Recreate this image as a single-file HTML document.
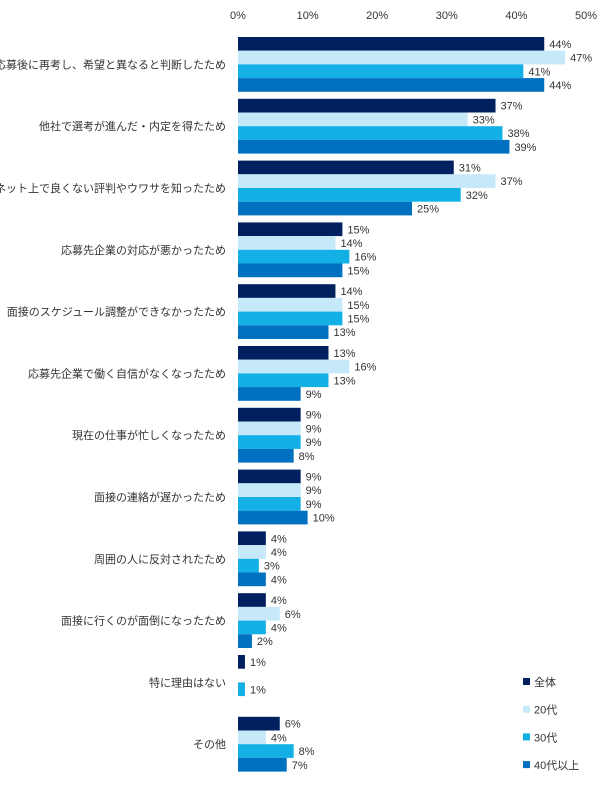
<!DOCTYPE html>
<html><head><meta charset="utf-8"><style>
body{margin:0;background:#fff;width:605px;height:781px;overflow:hidden;font-family:"Liberation Sans","Noto Sans CJK JP",sans-serif;}
svg text{font-family:"Liberation Sans","Noto Sans CJK JP",sans-serif;fill:#333;font-size:11px;}
</style></head><body>
<svg id="chart" width="605" height="781" xmlns="http://www.w3.org/2000/svg"></svg>
<script>
const categories=["応募後に再考し、希望と異なると判断したため","他社で選考が進んだ・内定を得たため","ネット上で良くない評判やウワサを知ったため","応募先企業の対応が悪かったため","面接のスケジュール調整ができなかったため","応募先企業で働く自信がなくなったため","現在の仕事が忙しくなったため","面接の連絡が遅かったため","周囲の人に反対されたため","面接に行くのが面倒になったため","特に理由はない","その他"];
const seriesNames=["全体","20代","30代","40代以上"];
const sAll=[44,37,31,15,14,13,9,9,4,4,1,6];
const s20=[47,33,37,14,15,16,9,9,4,6,null,4];
const s30=[41,38,32,16,15,13,9,9,3,4,1,8];
const s40=[44,39,25,15,13,9,8,10,4,2,null,7];
const ticks=[0,10,20,30,40,50];
const colors=["#002060","#c5e9f9","#13b0e6","#0070c0"];
const series=[sAll,s20,s30,s40];
const svg=document.getElementById('chart');
const NS="http://www.w3.org/2000/svg";
const x0=238,pxPer=6.96,gTop=37,gPitch=61.8,bh=13.7;
const xs=v=>x0+v*pxPer;
function mk(t,a){const e=document.createElementNS(NS,t);for(const k in a)e.setAttribute(k,a[k]);svg.appendChild(e);return e;}
ticks.forEach(t=>{const e=mk('text',{x:xs(t),y:19,'text-anchor':'middle'});e.textContent=t+'%';

});
categories.forEach((c,i)=>{const gy=gTop+i*gPitch;
const l=mk('text',{x:226,y:gy+bh*2+4,'text-anchor':'end'});l.textContent=c;


series.forEach((s,j)=>{const v=s[i];if(v==null)return;const y=gy+j*bh;
const r=mk('rect',{x:x0,y:y,width:Math.max(0,xs(v)-x0),height:bh,fill:colors[j]});


const t=mk('text',{x:xs(v)+5,y:y+bh/2+4});t.textContent=v+'%';

});});
seriesNames.forEach((n,j)=>{const y=682+j*27.7;
const r=mk('rect',{x:523,y:y-4,width:7,height:7,fill:colors[j]});


const t=mk('text',{x:534,y:y+4});t.textContent=n;

});
</script>
</body></html>
